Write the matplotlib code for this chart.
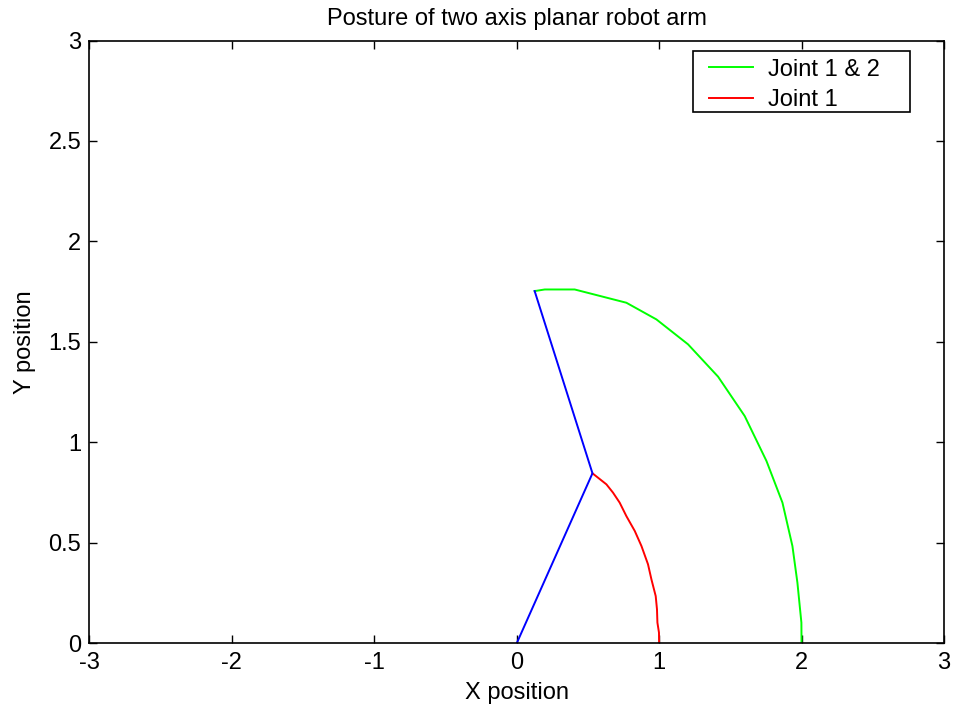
import matplotlib
matplotlib.use("Agg")
import matplotlib.pyplot as plt
from matplotlib.patches import Rectangle

# data (X, Y position)
green_x = [0.126, 0.197, 0.407, 0.770, 0.981, 1.203, 1.414, 1.601, 1.754, 1.866, 1.936, 1.971, 1.999, 2.0]
green_y = [1.753, 1.761, 1.761, 1.695, 1.612, 1.488, 1.327, 1.131, 0.907, 0.700, 0.484, 0.302, 0.103, 0.0]

red_x = [0.532, 0.630, 0.676, 0.723, 0.770, 0.829, 0.876, 0.922, 0.946, 0.976, 0.985, 0.988, 0.999, 1.0]
red_y = [0.846, 0.791, 0.750, 0.700, 0.633, 0.559, 0.484, 0.393, 0.318, 0.235, 0.169, 0.103, 0.053, 0.0]

arm_x = [0.0, 0.532, 0.126]
arm_y = [0.0, 0.846, 1.753]

x_ticks = [-3, -2, -1, 0, 1, 2, 3]
x_labels = ["-3", "-2", "-1", "0", "1", "2", "3"]
y_ticks = [0, 0.5, 1, 1.5, 2, 2.5, 3]
y_labels = ["0", "0.5", "1", "1.5", "2", "2.5", "3"]

plt.rcParams.update({
    "font.family": ["Liberation Sans", "DejaVu Sans"],
    "font.size": 17,
})

W, H = 959, 715
fig = plt.figure(figsize=(W / 100, H / 100), dpi=100)
ax = fig.add_axes([0.0933, 0.1003, 0.891, 0.843])

ax.plot(green_x, green_y, color="#00ff00", linewidth=1.4, label="Joint 1 & 2")
ax.plot(red_x, red_y, color="#ff0000", linewidth=1.4, label="Joint 1")
ax.plot(arm_x, arm_y, color="#0000ff", linewidth=1.4)

ax.set_xlim(-3, 3)
ax.set_ylim(0, 3)
ax.set_xticks(x_ticks)
ax.set_xticklabels(x_labels)
ax.set_yticks(y_ticks)
ax.set_yticklabels(y_labels)
ax.tick_params(direction="in", top=True, right=True, length=6, width=1, pad=6)
for s in ax.spines.values():
    s.set_linewidth(1.2)

ax.set_title("Posture of two axis planar robot arm", fontsize=17, pad=11)
ax.set_xlabel("X position", labelpad=6)
ax.set_ylabel("Y position", labelpad=9)

# legend entries without frame, box drawn separately (MATLAB-like wide box)
leg = ax.legend(loc="upper left", bbox_to_anchor=(709 / W, 1 - 58.5 / H),
                bbox_transform=fig.transFigure, frameon=False,
                borderaxespad=0, borderpad=0, handlelength=1.86,
                handletextpad=0.64, labelspacing=0.35)
fig.patches.append(Rectangle((693 / W, 1 - 112 / H), 217 / W, 61.3 / H,
                             transform=fig.transFigure, facecolor="none",
                             edgecolor="black", linewidth=1.2, zorder=5))

fig.savefig("out.png", dpi=100)
